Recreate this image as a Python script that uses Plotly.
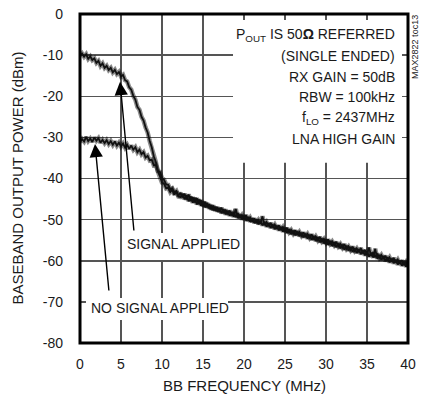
import plotly.graph_objects as go

# Frequency grid (MHz)
freq_mhz = [
    0, 0.25, 0.5, 0.75, 1, 1.25, 1.5, 1.75,
    2, 2.25, 2.5, 2.75, 3, 3.25, 3.5, 3.75,
    4, 4.25, 4.5, 4.75, 5, 5.25, 5.5, 5.75,
    6, 6.25, 6.5, 6.75, 7, 7.25, 7.5, 7.75,
    8, 8.25, 8.5, 8.75, 9, 9.25, 9.5, 9.75,
    10, 10.25, 10.5, 10.75, 11, 11.25, 11.5, 11.75,
    12, 12.25, 12.5, 12.75, 13, 13.25, 13.5, 13.75,
    14, 14.25, 14.5, 14.75, 15, 15.25, 15.5, 15.75,
    16, 16.25, 16.5, 16.75, 17, 17.25, 17.5, 17.75,
    18, 18.25, 18.5, 18.75, 19, 19.25, 19.5, 19.75,
    20, 20.25, 20.5, 20.75, 21, 21.25, 21.5, 21.75,
    22, 22.25, 22.5, 22.75, 23, 23.25, 23.5, 23.75,
    24, 24.25, 24.5, 24.75, 25, 25.25, 25.5, 25.75,
    26, 26.25, 26.5, 26.75, 27, 27.25, 27.5, 27.75,
    28, 28.25, 28.5, 28.75, 29, 29.25, 29.5, 29.75,
    30, 30.25, 30.5, 30.75, 31, 31.25, 31.5, 31.75,
    32, 32.25, 32.5, 32.75, 33, 33.25, 33.5, 33.75,
    34, 34.25, 34.5, 34.75, 35, 35.25, 35.5, 35.75,
    36, 36.25, 36.5, 36.75, 37, 37.25, 37.5, 37.75,
    38, 38.25, 38.5, 38.75, 39, 39.25, 39.5, 39.75,
    40,
]

# Baseband output power, no signal applied (dBm)
no_signal_dbm = [
    -31.2, -30.4, -31.0, -29.9, -30.9, -30.3, -31.1, -30.0,
    -30.8, -30.2, -31.3, -30.6, -31.4, -30.7, -31.6, -30.9,
    -31.8, -31.0, -32.0, -31.3, -32.2, -31.5, -32.5, -31.8,
    -32.8, -32.0, -33.0, -32.4, -33.6, -33.0, -34.1, -33.6,
    -34.9, -34.5, -35.6, -35.4, -36.8, -36.7, -38.2, -38.4,
    -39.9, -40.3, -41.4, -41.5, -42.6, -42.4, -43.4, -43.0,
    -44.2, -43.5, -44.6, -43.7, -45.1, -43.9, -45.4, -44.6,
    -45.8, -44.8, -46.2, -45.3, -46.7, -45.7, -47.0, -46.3,
    -47.5, -46.6, -47.8, -47.0, -48.1, -47.1, -48.4, -47.6,
    -48.7, -47.8, -49.0, -48.3, -49.3, -48.5, -49.6, -48.9,
    -49.9, -48.9, -50.2, -49.5, -50.5, -49.7, -50.8, -50.1,
    -51.0, -49.2, -51.3, -50.6, -51.6, -50.8, -51.9, -51.2,
    -52.2, -51.4, -52.5, -51.8, -52.8, -52.0, -53.1, -52.5,
    -53.4, -52.6, -53.7, -53.0, -53.9, -53.1, -54.2, -53.5,
    -54.4, -53.6, -54.8, -54.1, -55.0, -54.2, -55.3, -54.7,
    -55.6, -54.8, -55.9, -55.3, -56.2, -55.4, -56.5, -55.9,
    -56.8, -56.0, -57.1, -56.5, -57.4, -56.6, -57.6, -57.0,
    -57.9, -56.9, -58.2, -57.4, -58.5, -56.8, -58.8, -58.0,
    -59.1, -58.3, -59.3, -58.6, -59.6, -58.8, -59.9, -59.2,
    -60.2, -59.3, -60.4, -59.7, -60.7, -59.9, -61.0, -60.3,
    -61.2,
]

# Baseband output power, signal applied (dBm)
signal_dbm = [
    -10.2, -9.6, -10.4, -9.8, -10.9, -10.3, -11.2, -10.8,
    -11.9, -11.4, -12.6, -12.0, -13.1, -12.6, -13.6, -13.1,
    -14.2, -13.6, -14.6, -14.1, -15.2, -14.8, -16.1, -16.4,
    -17.8, -18.4, -19.9, -20.8, -22.6, -23.3, -25.0, -25.9,
    -27.6, -28.8, -30.9, -32.4, -34.6, -36.0, -38.3, -39.4,
    -41.0, -41.3, -42.4, -42.2, -43.3, -42.7, -43.9, -43.2,
    -44.4, -44.5, -43.8, -45.0, -44.1, -45.5, -44.4, -45.9,
    -44.7, -46.3, -45.1, -46.6, -45.6, -47.0, -46.0, -47.3,
    -46.5, -47.7, -46.9, -48.0, -47.2, -48.4, -47.5, -48.7,
    -47.9, -49.0, -48.2, -49.3, -47.4, -49.6, -48.8, -49.9,
    -49.1, -50.2, -49.4, -50.5, -49.7, -50.8, -50.0, -51.1,
    -50.3, -51.4, -50.6, -51.7, -50.9, -52.0, -51.2, -52.3,
    -51.5, -52.6, -51.8, -52.9, -52.1, -53.2, -52.4, -53.5,
    -52.7, -53.8, -52.9, -54.0, -53.2, -54.3, -53.4, -54.6,
    -53.7, -54.9, -54.0, -55.2, -54.3, -55.5, -54.6, -55.8,
    -54.9, -56.1, -55.2, -56.4, -55.5, -56.7, -55.8, -57.0,
    -56.1, -57.3, -56.4, -57.5, -56.7, -57.8, -57.0, -58.1,
    -57.2, -58.4, -57.5, -58.7, -57.8, -59.0, -58.1, -59.2,
    -57.1, -59.5, -58.6, -59.8, -58.9, -60.1, -59.2, -60.4,
    -59.5, -60.6, -59.8, -60.9, -60.1, -61.2, -60.3, -61.4,
    -60.6,
]

x_ticks = [0, 5, 10, 15, 20, 25, 30, 35, 40]
y_ticks = [0, -10, -20, -30, -40, -50, -60, -70, -80]

info_lines = [
    "P<sub>OUT</sub> IS 50<b>Ω</b> REFERRED",
    "(SINGLE ENDED)",
    "RX GAIN = 50dB",
    "RBW = 100kHz",
    "f<sub>LO</sub> = 2437MHz",
    "LNA HIGH GAIN",
]
info_y = [-5.1, -10.1, -15.2, -20.2, -25.3, -30.3]

FONT = "Liberation Sans, Arial, sans-serif"
INK = "#1a1a1a"

fig = go.Figure()
for ys in (no_signal_dbm, signal_dbm):
    fig.add_trace(go.Scatter(x=freq_mhz, y=ys, mode="lines",
                             line=dict(color="rgba(0,0,0,0.45)", width=4.5),
                             hoverinfo="skip", showlegend=False))
for ys in (no_signal_dbm, signal_dbm):
    fig.add_trace(go.Scatter(x=freq_mhz, y=ys, mode="lines",
                             line=dict(color="#111", width=1.8),
                             showlegend=False))

shapes = []
# white label boxes hiding the grid
for x0, x1, y0, y1 in [(18.66, 39.27, -1.46, -36.2),
                       (5.24, 19.27, -53.25, -59.8),
                       (0.73, 18.05, -69.06, -74.4)]:
    shapes.append(dict(type="rect", xref="x", yref="y", x0=x0, x1=x1, y0=y0, y1=y1,
                       fillcolor="white", line=dict(width=0), layer="above"))
# heavy frame
shapes.append(dict(type="rect", xref="paper", yref="paper", x0=0, x1=1, y0=0, y1=1,
                   line=dict(color="black", width=3), layer="above"))

annotations = []
for txt, yy in zip(info_lines, info_y):
    annotations.append(dict(x=38.7, y=yy, xref="x", yref="y", text=txt,
                            showarrow=False, xanchor="right", yanchor="middle",
                            font=dict(family=FONT, size=14, color=INK)))
annotations += [
    dict(x=5.49, y=-55.9, xref="x", yref="y", text="SIGNAL APPLIED", showarrow=False,
         xanchor="left", yanchor="middle", font=dict(family=FONT, size=14, color=INK)),
    dict(x=1.1, y=-71.5, xref="x", yref="y", text="NO SIGNAL APPLIED", showarrow=False,
         xanchor="left", yanchor="middle", font=dict(family=FONT, size=14, color=INK)),
    dict(x=4.88, y=-16.5, xref="x", yref="y", ax=6.59, ay=-53.0, axref="x", ayref="y",
         text="", showarrow=True, arrowhead=2, arrowsize=1.9, arrowwidth=1.4,
         arrowcolor="black", standoff=0),
    dict(x=1.83, y=-31.6, xref="x", yref="y", ax=3.54, ay=-67.6, axref="x", ayref="y",
         text="", showarrow=True, arrowhead=2, arrowsize=1.9, arrowwidth=1.4,
         arrowcolor="black", standoff=0),
    dict(x=1, y=-8.0, xref="paper", yref="y", xshift=7, text="MAX2822 toc13",
         showarrow=False, textangle=-90, xanchor="center", yanchor="middle",
         font=dict(family=FONT, size=9, color="#222")),
    dict(x=0, y=0.5, xref="paper", yref="paper", xshift=-63, text="BASEBAND OUTPUT POWER (dBm)",
         showarrow=False, textangle=-90, xanchor="center", yanchor="middle",
         font=dict(family=FONT, size=15, color=INK)),
    dict(x=0.5, y=0, xref="paper", yref="paper", yshift=-42, text="BB FREQUENCY (MHz)",
         showarrow=False, xanchor="center", yanchor="middle",
         font=dict(family=FONT, size=15, color=INK)),
]

fig.update_layout(
    width=421, height=402,
    margin=dict(l=80, r=13, t=14, b=59, autoexpand=False),
    paper_bgcolor="white", plot_bgcolor="white",
    showlegend=False,
    shapes=shapes, annotations=annotations,
    font=dict(family=FONT, size=14, color=INK),
)
fig.update_xaxes(range=[0, 40], tickvals=x_ticks, ticktext=[str(v) for v in x_ticks],
                 showgrid=True, gridcolor="#555", gridwidth=1.5, zeroline=False,
                 showline=False, ticks="", ticklabelstandoff=11, automargin=False,
                 ticklabeloverflow="allow",
                 tickfont=dict(family=FONT, size=14, color=INK))
fig.update_yaxes(range=[-80, 0], tickvals=y_ticks, ticktext=[str(v) for v in y_ticks],
                 showgrid=True, gridcolor="#555", gridwidth=1.5, zeroline=False,
                 showline=False, ticks="", ticklabelstandoff=16, automargin=False,
                 ticklabeloverflow="allow",
                 tickfont=dict(family=FONT, size=14, color=INK))

# remove the page's default 8px body margin so the figure fills the window exactly
fig.write_html("out.html",
               config={"displayModeBar": False, "staticPlot": True},
               post_script="document.body.style.margin='0';document.body.style.overflow='hidden';")
